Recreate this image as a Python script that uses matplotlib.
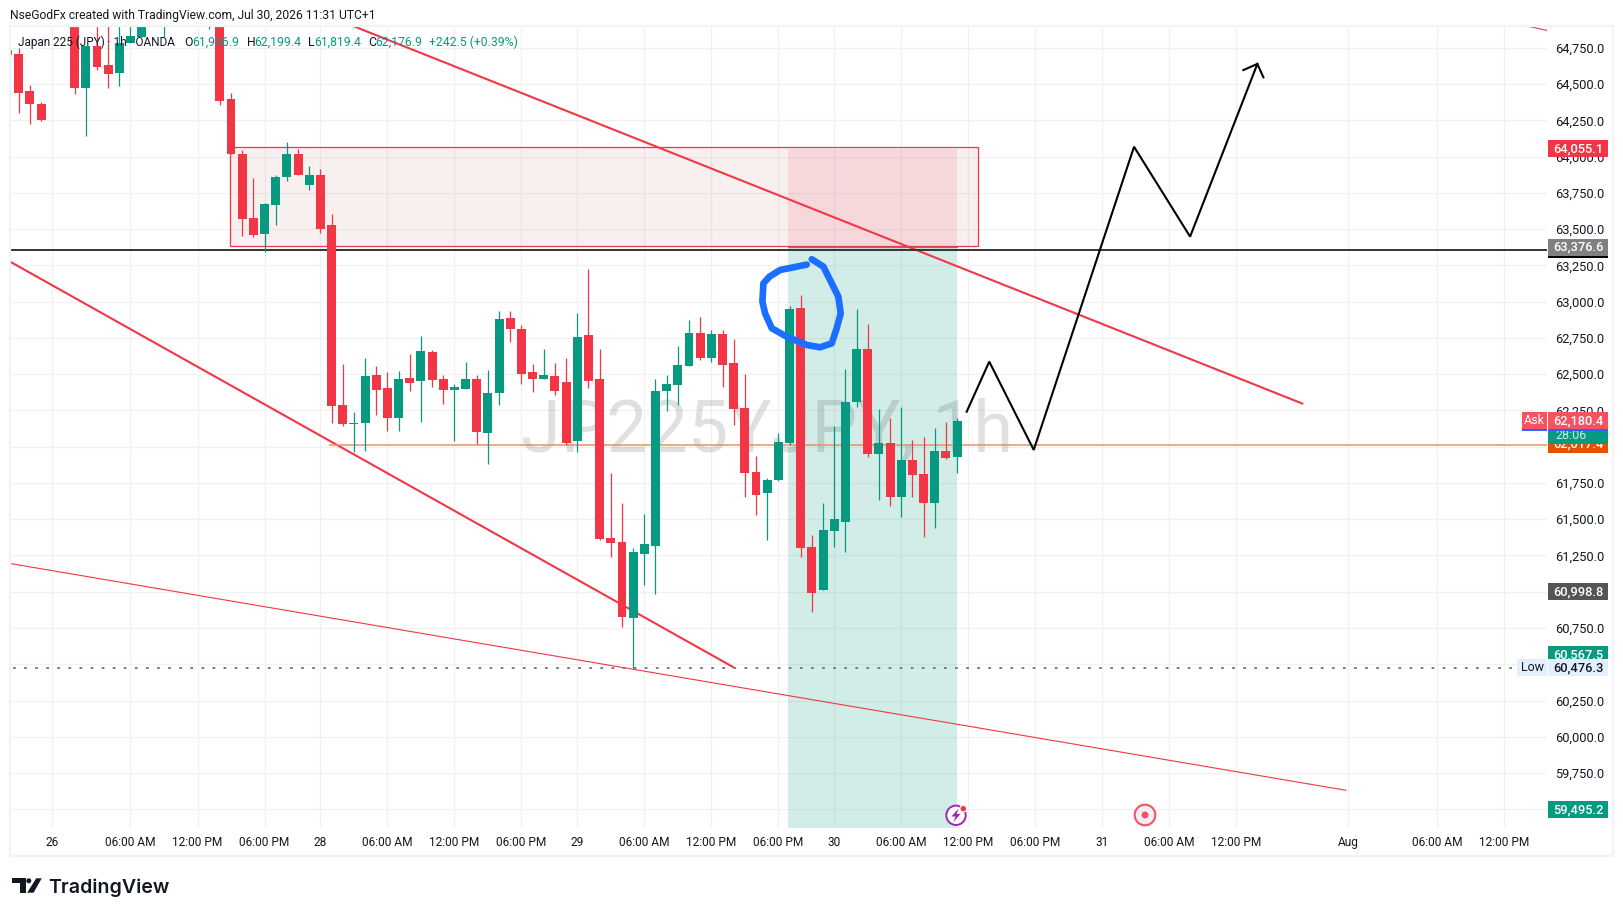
import numpy as np
import matplotlib
matplotlib.use('Agg')
import matplotlib.pyplot as plt
from matplotlib.patches import Rectangle, Circle, Polygon
from matplotlib.transforms import Affine2D

nan = float('nan')

# hourly bars, bar 0 is the "26" tick
first_bar = -4
opens = [64736, 64709, 64453, 64364, nan, nan, 65000, 64474, 64764, 64633, 64578, 64784, 64826, nan, 65000, nan, nan, nan, 65000, 65000,
         64398, 64019, 63578, 63467, 63667, 63860, 64019, 63805, 63874, 63529, 62288, 62157, 62164, 62495, 62405, 62198, 62474, 62453, 62654, 62467,
         62391, 62398, 62467, 62095, 62371, 62888, 62812, 62516, 62467, 62488, 62447, 62040, 62771, 62467, 61371, 61343, 60819, 61260, 61315, 62385,
         62426, 62557, 62785, 62612, 62778, 62578, 62267, 61826, 61681, 61771, 62026, 62957, 61309, 61012, 61419, 61481, 62309, 62674, 61950, 62026,
         61653, 61909, 61812, 61612, 61971, 61929]
highs = [64736, 64750, 64495, 64378, nan, nan, 65050, 64764, 65000, 65000, 65000, 65000, 65000, nan, 65150, nan, nan, nan, 65100, 65100,
         64440, 64047, 63853, 63681, 63874, 64102, 64053, 63936, 63916, 63605, 62571, 62240, 62612, 62557, 62516, 62522, 62640, 62764, 62667, 62495,
         62433, 62585, 62495, 62529, 62936, 62936, 62840, 62571, 62674, 62578, 62612, 62922, 63226, 62674, 61819, 61612, 61302, 61536, 62467, 62495,
         62695, 62874, 62895, 62805, 62805, 62743, 62502, 61936, 61784, 62095, 62971, 63047, 61391, 61612, 62143, 62536, 62950, 62847, 62260, 62198,
         62274, 62047, 62067, 62129, 62171, 62198]
lows = [64702, 64302, 64226, 64247, nan, nan, 64433, 64143, 64598, 64474, 64488, 64784, 64826, nan, 64823, nan, nan, nan, 64881, 64357,
        64019, 63453, 63447, 63343, 63529, 63833, 63874, 63771, 63474, 62164, 62143, 61964, 61971, 62219, 62109, 62109, 62385, 62171, 62412, 62295,
        62040, 62398, 62019, 61881, 62288, 62722, 62433, 62378, 62467, 62357, 62012, 61964, 62405, 61357, 61240, 60757, 60474, 61046, 60984, 62247,
        62288, 62557, 62598, 62585, 62412, 62150, 61653, 61529, 61357, 61764, 62012, 61240, 60860, 61012, 61309, 61274, 62274, 61929, 61633, 61591,
        61515, 61653, 61378, 61440, 61915, 61819]
closes = [64702, 64440, 64364, 64253, nan, nan, 64474, 64764, 64619, 64571, 64784, 64833, 64950, nan, 65100, nan, nan, nan, 65100, 64384,
          64019, 63571, 63460, 63674, 63860, 64019, 63874, 63874, 63502, 62281, 62157, 62164, 62488, 62391, 62198, 62467, 62440, 62660, 62460, 62391,
          62412, 62467, 62102, 62371, 62881, 62812, 62502, 62467, 62495, 62385, 62026, 62757, 62453, 61364, 61336, 60826, 61274, 61329, 62385, 62433,
          62564, 62785, 62612, 62778, 62564, 62260, 61819, 61667, 61771, 62033, 62950, 61302, 60991, 61426, 61502, 62309, 62674, 61950, 62026, 61653,
          61909, 61805, 61612, 61971, 61922, 62178]

y_ticks = list(range(59500, 64751, 250))
covered_ticks = [59500, 60500, 61000, 62000]   # sit fully under a price tag
x_ticks = [0, 7, 13, 19, 24, 30, 36, 42, 47, 53, 59, 65, 70, 76, 82, 88, 94, 100, 106, 116, 124, 130]
x_tick_labels = ['26', '06:00 AM', '12:00 PM', '06:00 PM', '28', '06:00 AM', '12:00 PM', '06:00 PM', '29',
                 '06:00 AM', '12:00 PM', '06:00 PM', '30', '06:00 AM', '12:00 PM', '06:00 PM', '31',
                 '06:00 AM', '12:00 PM', 'Aug', '06:00 AM', '12:00 PM']

# drawings, as bar number and price
upper_trend_x = [26, 111.9]
upper_trend_y = [64930, 62298]
lower_trend_x = [-3.79, 60.94]
lower_trend_y = [63277, 60481]
thin_trend_x = [-3.79, 115.8]
thin_trend_y = [61195, 59631]
corner_trend_x = [131, 133.81]
corner_trend_y = [64920, 64871]
path_x = [81.86, 83.88, 87.86, 96.84, 101.86, 107.88]
path_y = [62242, 62587, 61978, 64069, 63449, 64640]
arrow_x = [106.63, 107.88, 108.42]
arrow_y = [64598, 64640, 64548]
brush_x = [67.54, 65.15, 64.2, 63.66, 63.57, 63.81, 64.41, 65.75, 67.54, 68.73, 69.78, 70.22, 70.58, 70.37, 69.78, 69.03, 67.99]
brush_y = [63256, 63219, 63173, 63127, 63001, 62920, 62817, 62759, 62702, 62686, 62713, 62817, 62920, 63035, 63127, 63242, 63293]

RED = '#F23645'
GREEN = '#089981'
TEXT = '#131722'

plt.rcParams['font.family'] = ['Roboto', 'DejaVu Sans']

W, H = 1623, 916
fig = plt.figure(figsize=(W / 100, H / 100), dpi=100, facecolor='white')
ax = fig.add_axes([10 / W, 1 - 828 / H, 1537 / W, 802 / H])
px = Affine2D().scale(1, -1).translate(0, H)   # figure pixels, y going down

ax.set_xlim(-3.787, 133.81)
ax.set_ylim(59370.7, 64901.7)
for s in ax.spines.values():
    s.set_visible(False)
ax.set_axisbelow(True)
ax.grid(color='#F0F1F3', lw=0.9)
ax.yaxis.tick_right()
ax.set_yticks(y_ticks)
ax.set_yticklabels(['' if v in covered_ticks else f'{v:,.1f}' for v in y_ticks], fontsize=9.3, color=TEXT)
for lbl in ax.get_yticklabels():
    lbl.set_va('center_baseline')
ax.set_xticks(x_ticks)
ax.set_xticklabels(x_tick_labels, fontsize=8.6, color=TEXT)
ax.tick_params(length=0)
ax.tick_params(axis='y', pad=5.5)
ax.tick_params(axis='x', pad=5.5)

# zones
ax.add_patch(Rectangle((15.94, 63386), 66.96, 681, fc='#A0202A', alpha=0.07, ec='none', zorder=1))
ax.add_patch(Rectangle((15.94, 63386), 66.96, 681, fc='none', ec=RED, lw=0.9, zorder=1.2))
ax.add_patch(Rectangle((65.87, 63386), 15.13, 669, fc=RED, alpha=0.12, ec='none', zorder=1.1))
ax.add_patch(Rectangle((65.87, 59200), 15.13, 63376 - 59200, fc=GREEN, alpha=0.18, ec='none', zorder=1))
ax.plot([65.87, 81], [63376, 63376], color='#787B86', lw=0.9, zorder=1.2)

ax.text(64, 62100, 'JP225YJPY, 1h', fontsize=52, color='black', alpha=0.12, ha='center', va='center', zorder=1.5)

# lines under the candles
ax.plot(upper_trend_x, upper_trend_y, color=RED, lw=1.5, zorder=2)
ax.plot(lower_trend_x, lower_trend_y, color=RED, lw=1.5, zorder=2)
ax.plot(thin_trend_x, thin_trend_y, color=RED, lw=0.8, zorder=2)
ax.plot(corner_trend_x, corner_trend_y, color=RED, lw=0.8, zorder=2)
ax.plot([-3.79, 133.81], [63357, 63357], color='#333333', lw=1.4, zorder=2)
ax.plot([24.9, 133.81], [62012, 62012], color='#EE8F5C', lw=1.1, zorder=2)
ax.plot([-3.5, 131], [60476.3, 60476.3], color='#787B86', lw=1.4, ls=(0, (1.4, 4.3)), zorder=2)

# candles
bars = np.arange(first_bar, first_bar + len(opens))
o = np.array(opens, dtype=float)
h = np.array(highs, dtype=float)
l = np.array(lows, dtype=float)
c = np.array(closes, dtype=float)
colors = [GREEN if cc >= oo else RED for oo, cc in zip(o, c)]
ax.vlines(bars, l, h, colors=colors, lw=0.9, zorder=3)
ax.bar(bars, np.abs(c - o), bottom=np.minimum(o, c), width=0.8, color=colors, zorder=3.1)

# hand drawn parts
ax.plot(path_x, path_y, color='black', lw=1.5, zorder=4, solid_joinstyle='miter')
ax.plot(arrow_x, arrow_y, color='black', lw=1.5, zorder=4, solid_joinstyle='miter')
ax.plot(brush_x, brush_y, color='#1A6FFF', lw=4.8, zorder=5, solid_capstyle='round', solid_joinstyle='round')


def price_tag(price, label, color, text_color='white', height=117):
    ax.add_patch(Rectangle((1.00065, price - height / 2), 0.03904, height, fc=color, ec='none',
                           transform=ax.get_yaxis_transform(), clip_on=False, zorder=20))
    if label:
        ax.text(1.0202, price, label, color=text_color, fontsize=9.3, ha='center', va='center',
                transform=ax.get_yaxis_transform(), zorder=20, fontweight='medium')


def side_tag(price, label, color, text_color, left, height=117):
    ax.add_patch(Rectangle((left, price - height / 2), 1 - left, height, fc=color, ec='none',
                           transform=ax.get_yaxis_transform(), clip_on=False, zorder=21))
    ax.text((left + 1) / 2, price, label, color=text_color, fontsize=9, ha='center', va='center',
            transform=ax.get_yaxis_transform(), zorder=21)


price_tag(64055.1, '64,055.1', RED)
price_tag(63357, '', 'black')
price_tag(63376.6, '63,376.6', '#808080')
price_tag(60998.8, '60,998.8', '#555555')
price_tag(60567.5, '60,567.5', GREEN)
price_tag(60476.3, '60,476.3', '#E3EFFD', TEXT)
price_tag(59495.2, '59,495.2', GREEN)
price_tag(62017.4, '62,017.4', '#E65100')
price_tag(62126, '', GREEN, height=214)
ax.text(1.0157, 62079, '28:06', color='#C8F0E6', fontsize=9, ha='center', va='center',
        transform=ax.get_yaxis_transform(), zorder=20)
price_tag(62168, '', '#2962FF')
price_tag(62180.4, '62,180.4', '#F7525F')
ax.add_patch(Rectangle((0.9837, 62168 - 58), 1 - 0.9837, 117, fc='#2962FF', ec='none',
                       transform=ax.get_yaxis_transform(), clip_on=False, zorder=20.5))
side_tag(62180.4, 'Ask', '#F7525F', 'white', 0.9837)
side_tag(60476.3, 'Low', '#E3EFFD', TEXT, 0.9805)

# frame round the whole chart
fig.add_artist(Rectangle((10, 26), 1603, 830, transform=px, fc='none', ec='#F2F3F5', lw=1.6))

# header and legend
fig.text(10 / W, 1 - 15 / H, 'NseGodFx created with TradingView.com, Jul 30, 2026 11:31 UTC+1',
         fontsize=8.7, color=TEXT, va='center')
legend_parts = [(18.3, 'Japan 225 (JPY) · 1h · OANDA', TEXT, 8.5), (184.3, 'O', TEXT, 8.8), (192.7, '61,936.9', GREEN, 8.8),
                (246.7, 'H', TEXT, 8.8), (254, '62,199.4', GREEN, 8.8), (308.3, 'L', TEXT, 8.8), (314.3, '61,819.4', GREEN, 8.8),
                (368, 'C', TEXT, 8.8), (375.7, '62,176.9', GREEN, 8.8), (429, '+242.5 (+0.39%)', GREEN, 8.8)]
for xp, txt, col, fs in legend_parts:
    fig.text(xp / W, 1 - 42 / H, txt, fontsize=fs, color=col, va='center', zorder=30)

# event icons on the time scale
fig.add_artist(Circle((956, 815.3), 9.7, transform=px, fc='white', ec='#9C27B0', lw=1.4, zorder=30))
fig.add_artist(Polygon([(958.5, 808.5), (951.5, 816.5), (955.5, 816.5), (953.5, 822), (960.5, 814), (956.5, 814)],
                       transform=px, fc='#9C27B0', ec='none', zorder=31))
fig.add_artist(Circle((963.3, 808.7), 3.3, transform=px, fc='#F23645', ec='white', lw=0.8, zorder=32))
fig.add_artist(Circle((1145, 815), 10.3, transform=px, fc='#F0F1F8', ec='#F7525F', lw=1.5, zorder=30))
fig.add_artist(Circle((1145, 815), 3.5, transform=px, fc='#F7525F', ec='none', zorder=31))

# logo
fig.add_artist(Polygon([(12, 878.3), (25.5, 878.3), (25.5, 892.7), (20.2, 892.7), (20.2, 883.3), (12, 883.3)],
                       transform=px, fc='#131722', ec='none'))
fig.add_artist(Circle((28.8, 880.8), 2.5, transform=px, fc='#131722', ec='none'))
fig.add_artist(Polygon([(36.2, 878.3), (41.7, 878.3), (33.6, 892.7), (27.2, 892.7)],
                       transform=px, fc='#131722', ec='none'))
fig.text(48.5 / W, 1 - 892.7 / H, 'TradingView', fontsize=14.1, color='#131722', va='baseline',
         family='Inter', fontweight='semibold')

fig.savefig('out.png', dpi=100)
